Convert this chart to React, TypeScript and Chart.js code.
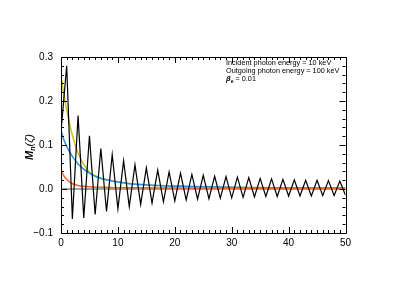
import React, { useEffect, useRef } from "react";
import { Chart, registerables } from "chart.js";

Chart.register(...registerables);

const zigX = Array.from({ length: 51 }, (_, i) => i);
const zigY = [
  0.13, 0.28, -0.068, 0.167, -0.066, 0.121, -0.058, 0.092, -0.051, 0.078,
  -0.045, 0.064, -0.04, 0.055, -0.035, 0.048, -0.032, 0.043, -0.029, 0.039,
  -0.027, 0.036, -0.025, 0.033, -0.023, 0.031, -0.022, 0.029, -0.021, 0.028,
  -0.02, 0.027, -0.019, 0.026, -0.018, 0.024, -0.017, 0.023, -0.017, 0.022,
  -0.016, 0.021, -0.016, 0.02, -0.016, 0.02, -0.015, 0.019, -0.015, 0.018,
  -0.014,
];

const blueX = [0, 0.5, 1, 1.5, 2, 2.5, 3, 4, 5, 6, 7, 8, 10, 12, 14, 17, 21, 25, 30, 35, 40, 50];
const blueY = [0.133, 0.112, 0.097, 0.085, 0.074, 0.065, 0.057, 0.045, 0.036, 0.029, 0.024, 0.021, 0.016, 0.012, 0.01, 0.008, 0.006, 0.005, 0.004, 0.003, 0.003, 0.002];

const yellowX = [0, 0.5, 1, 1.5, 2, 2.5, 3, 3.5, 4, 4.5, 5, 6, 8, 10, 15, 20, 30, 50];
const yellowY = [0.256, 0.215, 0.18, 0.148, 0.122, 0.1, 0.082, 0.068, 0.056, 0.046, 0.038, 0.03, 0.021, 0.016, 0.009, 0.007, 0.004, 0.002];

const orangeX = [0, 0.5, 1, 1.5, 2, 3, 4, 5, 7, 10, 15, 20, 30, 50];
const orangeY = [0.042, 0.03, 0.022, 0.016, 0.012, 0.008, 0.006, 0.005, 0.004, 0.003, 0.003, 0.002, 0.0015, 0.001];

const zeroX = [0, 50];
const zeroY = [0, 0];

const xTickLabels = ["0", "10", "20", "30", "40", "50"];
const yTickLabels = ["\u22120.1", "0.0", "0.1", "0.2", "0.3"];

const annotations = ["Incident photon energy = 10 keV", "Outgoing photon energy = 100 keV"];

const pts = (xs: number[], ys: number[]) => xs.map((x, i) => ({ x, y: ys[i] }));

const FONT = "'Liberation Sans', Arial, Helvetica, sans-serif";

const framePlugin = {
  id: "frame",
  afterDatasetsDraw(chart: any) {
    const { ctx, chartArea: a, scales } = chart;
    const xs = scales.x;
    const ys = scales.y;
    ctx.save();
    ctx.strokeStyle = "#000";
    ctx.lineWidth = 1;
    ctx.beginPath();
    ctx.rect(Math.round(a.left) + 0.5, Math.round(a.top) + 0.5, Math.round(a.right - a.left), Math.round(a.bottom - a.top));
    ctx.stroke();
    ctx.beginPath();
    for (let v = 0; v <= 50; v += 1) {
      const px = Math.round(xs.getPixelForValue(v)) + 0.5;
      const len = v % 10 === 0 ? 6 : 3;
      ctx.moveTo(px, a.bottom);
      ctx.lineTo(px, a.bottom - len);
      ctx.moveTo(px, a.top);
      ctx.lineTo(px, a.top + len);
    }
    for (let k = -5; k <= 15; k++) {
      const v = k * 0.02;
      const py = Math.round(ys.getPixelForValue(v)) + 0.5;
      const len = k % 5 === 0 ? 6 : 3;
      ctx.moveTo(a.left, py);
      ctx.lineTo(a.left + len, py);
      ctx.moveTo(a.right, py);
      ctx.lineTo(a.right - len, py);
    }
    ctx.stroke();

    // y-axis title
    ctx.fillStyle = "#000";
    ctx.translate(29, (a.top + a.bottom) / 2 + 2);
    ctx.rotate(-Math.PI / 2);
    ctx.textBaseline = "alphabetic";
    ctx.textAlign = "left";
    const big = "bold italic 11px " + FONT;
    const small = "bold italic 7px " + FONT;
    const parts: [string, string, number][] = [
      ["M", big, 0],
      ["n", small, 2],
      ["(\u03b6)", "italic 11px " + FONT, 0],
    ];
    let total = 0;
    for (const [t, f] of parts) {
      ctx.font = f;
      total += ctx.measureText(t).width;
    }
    let cx = -total / 2;
    for (const [t, f, dy] of parts) {
      ctx.font = f;
      ctx.fillText(t, cx, 4 + dy);
      cx += ctx.measureText(t).width;
    }
    ctx.restore();

    // annotations
    ctx.save();
    ctx.fillStyle = "#000";
    ctx.textBaseline = "middle";
    ctx.textAlign = "left";
    ctx.font = "7.3px " + FONT;
    const left = 226;
    annotations.forEach((t, i) => ctx.fillText(t, left, 63 + i * 8.2));
    const y3 = 63 + 2 * 8.2;
    ctx.font = "bold italic 7.5px " + FONT;
    ctx.fillText("\u03b2", left, y3);
    let w = ctx.measureText("\u03b2").width;
    ctx.font = "bold 5px " + FONT;
    ctx.fillText("e", left + w, y3 + 2);
    w += ctx.measureText("e").width;
    ctx.font = "7.3px " + FONT;
    ctx.fillText(" = 0.01", left + w, y3);
    ctx.restore();
  },
};

export default function App() {
  const ref = useRef<HTMLCanvasElement | null>(null);
  useEffect(() => {
    if (!ref.current) return;
    const chart = new Chart(ref.current, {
      type: "line",
      data: {
        datasets: [
          {
            data: pts(zigX, zigY),
            borderColor: "#000000",
            borderWidth: 1.2,
            pointRadius: 0,
            tension: 0,
          },
          {
            data: pts(orangeX, orangeY),
            borderColor: "#ff6428",
            borderWidth: 1.5,
            pointRadius: 0,
            cubicInterpolationMode: "monotone",
          },
          {
            data: pts(blueX, blueY),
            borderColor: "#1e96f0",
            borderWidth: 1.5,
            pointRadius: 0,
            cubicInterpolationMode: "monotone",
          },
          {
            data: pts(yellowX, yellowY),
            borderColor: "#c4c41a",
            borderWidth: 1.5,
            pointRadius: 0,
            cubicInterpolationMode: "monotone",
          },
          {
            data: pts(zeroX, zeroY),
            borderColor: "#222222",
            borderWidth: 0.8,
            pointRadius: 0,
          },
        ] as any,
      },
      options: {
        animation: false,
        responsive: false,
        devicePixelRatio: 1,
        layout: { padding: { left: 0, right: 61.5, top: 57, bottom: 33 } },
        plugins: { legend: { display: false }, tooltip: { enabled: false } },
        scales: {
          x: {
            type: "linear",
            min: 0,
            max: 50,
            border: { display: false },
            grid: { display: false, drawTicks: false },
            afterFit: (s: any) => {
              s.height = 25;
            },
            afterBuildTicks: (s: any) => {
              s.ticks = xTickLabels.map((l) => ({ value: Number(l), label: l }));
            },
            ticks: {
              padding: 4,
              color: "#000",
              maxRotation: 0,
              autoSkip: false,
              font: { size: 10, family: FONT },
              callback: (_v: any, i: number) => xTickLabels[i],
            },
          },
          y: {
            type: "linear",
            min: -0.1,
            max: 0.3,
            border: { display: false },
            grid: { display: false, drawTicks: false },
            afterFit: (s: any) => {
              s.width = 61;
            },
            afterBuildTicks: (s: any) => {
              s.ticks = yTickLabels.map((l, i) => ({ value: -0.1 + i * 0.1, label: l }));
            },
            ticks: {
              padding: 8,
              color: "#000",
              autoSkip: false,
              font: { size: 10, family: FONT },
              callback: (_v: any, i: number) => yTickLabels[i],
            },
          },
        },
      },
      plugins: [framePlugin],
    });
    return () => chart.destroy();
  }, []);
  return (
    <div style={{ position: "fixed", left: 0, top: 0, width: 407, height: 291, background: "#fff" }}>
      <canvas ref={ref} width={407} height={291} style={{ width: 407, height: 291 }} />
    </div>
  );
}
